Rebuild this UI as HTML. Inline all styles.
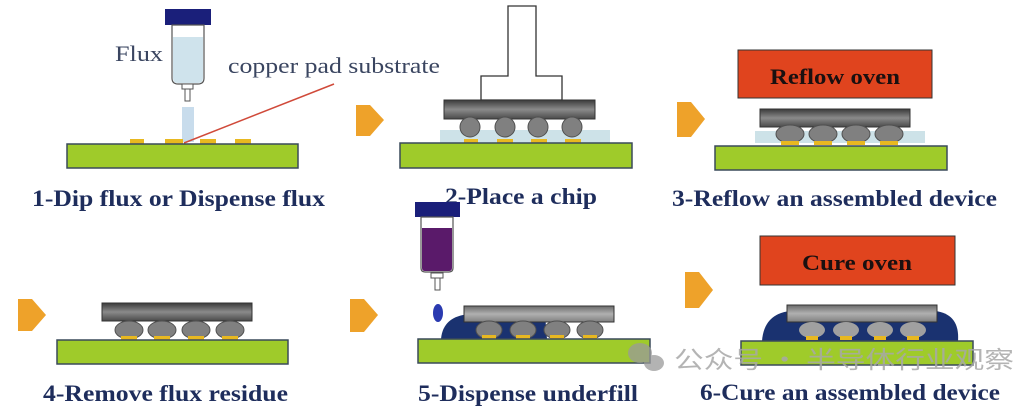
<!DOCTYPE html>
<html><head><meta charset="utf-8"><style>
html,body{margin:0;padding:0;background:#fff;width:1024px;height:406px;overflow:hidden}
svg{display:block}
.lab{font-family:"Liberation Serif",serif;font-weight:bold;font-size:23px;fill:#1e2d5c}
.sub{fill:#9fcb2a;stroke:#3a4a5a;stroke-width:1.5}
.pad{fill:#e8b820}
.ball{fill:#808080;stroke:#505050;stroke-width:1}
.arr{fill:#eea22a}
</style></head><body>
<svg width="1024" height="406" viewBox="0 0 1024 406" xmlns="http://www.w3.org/2000/svg">
<defs>
<linearGradient id="chip" x1="0" y1="0" x2="0" y2="1">
<stop offset="0" stop-color="#3a3a3a"/><stop offset="0.5" stop-color="#8a8a8a"/><stop offset="1" stop-color="#4a4a4a"/>
</linearGradient>
<linearGradient id="chip2" x1="0" y1="0" x2="0" y2="1">
<stop offset="0" stop-color="#6a6a6a"/><stop offset="0.5" stop-color="#b0b0b0"/><stop offset="1" stop-color="#808080"/>
</linearGradient>
</defs>

<!-- Panel 1 -->
<rect x="165" y="9" width="46" height="16" fill="#1a1f7a"/>
<path d="M172 25 H204 V78 Q204 84 198 84 H178 Q172 84 172 78 Z" fill="#fff" stroke="#555" stroke-width="1.2"/>
<path d="M173 37 H203 V78 Q203 83 198 83 H178 Q173 83 173 78 Z" fill="#cfe3ec"/>
<rect x="182" y="84" width="11" height="5" fill="#fff" stroke="#555"/>
<rect x="185" y="89" width="5" height="12" fill="#fff" stroke="#555"/>
<rect x="182" y="107" width="12" height="35" fill="#c8dcec"/>
<text x="115" y="61" font-family="Liberation Serif,serif" font-size="22" fill="#3a4560" textLength="48" lengthAdjust="spacingAndGlyphs">Flux</text>
<text x="228" y="73" font-family="Liberation Serif,serif" font-size="22" fill="#3a4560" textLength="212" lengthAdjust="spacingAndGlyphs">copper pad substrate</text>
<rect x="130" y="139" width="14" height="5" class="pad"/>
<rect x="165" y="139" width="18" height="5" class="pad"/>
<rect x="200" y="139" width="16" height="5" class="pad"/>
<rect x="235" y="139" width="16" height="5" class="pad"/>
<line x1="334" y1="84" x2="184" y2="143" stroke="#d04a3a" stroke-width="1.5"/>
<rect x="67" y="144" width="231" height="24" class="sub"/>
<text x="32" y="206" class="lab" textLength="293" lengthAdjust="spacingAndGlyphs">1-Dip flux or Dispense flux</text>

<path class="arr" d="M356 105 H370 L384 120 L370 136 H356 Z"/>

<!-- Panel 2 -->
<path d="M508 6 H536 V76 H562 V100 H481 V76 H508 Z" fill="#fff" stroke="#333" stroke-width="1.3"/>
<rect x="440" y="130" width="170" height="13" fill="#cde2e8"/>
<rect x="444" y="100" width="151" height="19" fill="url(#chip)" stroke="#333"/>
<circle cx="470" cy="127" r="10" class="ball"/>
<circle cx="505" cy="127" r="10" class="ball"/>
<circle cx="538" cy="127" r="10" class="ball"/>
<circle cx="572" cy="127" r="10" class="ball"/>
<rect x="464" y="139" width="14" height="4" class="pad"/>
<rect x="497" y="139" width="16" height="4" class="pad"/>
<rect x="531" y="139" width="16" height="4" class="pad"/>
<rect x="565" y="139" width="16" height="4" class="pad"/>
<rect x="400" y="143" width="232" height="25" class="sub"/>
<text x="445" y="204" class="lab" textLength="152" lengthAdjust="spacingAndGlyphs">2-Place a chip</text>

<path class="arr" d="M677 102 H691 L705 119 L691 137 H677 Z"/>

<!-- Panel 3 -->
<rect x="738" y="50" width="194" height="48" fill="#e0441e" stroke="#333"/>
<text x="835" y="84" text-anchor="middle" font-family="Liberation Serif,serif" font-weight="bold" font-size="22" fill="#1a1010" textLength="130" lengthAdjust="spacingAndGlyphs">Reflow oven</text>
<rect x="755" y="131" width="170" height="12" fill="#cde2e8"/>
<rect x="760" y="109" width="150" height="18" fill="url(#chip)" stroke="#333"/>
<ellipse cx="790" cy="134" rx="14" ry="9" class="ball"/>
<ellipse cx="823" cy="134" rx="14" ry="9" class="ball"/>
<ellipse cx="856" cy="134" rx="14" ry="9" class="ball"/>
<ellipse cx="889" cy="134" rx="14" ry="9" class="ball"/>
<rect x="781" y="141" width="18" height="4" class="pad"/>
<rect x="814" y="141" width="18" height="4" class="pad"/>
<rect x="847" y="141" width="18" height="4" class="pad"/>
<rect x="880" y="141" width="18" height="4" class="pad"/>
<rect x="715" y="146" width="232" height="24" class="sub"/>
<text x="672" y="206" class="lab" textLength="325" lengthAdjust="spacingAndGlyphs">3-Reflow an assembled device</text>

<!-- Panel 4 -->
<path class="arr" d="M18 299 H32 L46 315 L32 331 H18 Z"/>
<rect x="102" y="303" width="150" height="18" fill="url(#chip)" stroke="#333"/>
<ellipse cx="129" cy="330" rx="14" ry="9" class="ball"/>
<ellipse cx="162" cy="330" rx="14" ry="9" class="ball"/>
<ellipse cx="196" cy="330" rx="14" ry="9" class="ball"/>
<ellipse cx="230" cy="330" rx="14" ry="9" class="ball"/>
<rect x="121" y="336" width="16" height="4" class="pad"/>
<rect x="154" y="336" width="16" height="4" class="pad"/>
<rect x="188" y="336" width="16" height="4" class="pad"/>
<rect x="222" y="336" width="16" height="4" class="pad"/>
<rect x="57" y="340" width="231" height="24" class="sub"/>
<text x="43" y="401" class="lab" textLength="245" lengthAdjust="spacingAndGlyphs">4-Remove flux residue</text>

<path class="arr" d="M350 299 H364 L378 315 L364 332 H350 Z"/>

<!-- Panel 5 -->
<rect x="415" y="202" width="45" height="15" fill="#1a1f7a"/>
<path d="M421 217 H453 V268 Q453 272 449 272 H425 Q421 272 421 268 Z" fill="#fff" stroke="#555" stroke-width="1.2"/>
<path d="M422 228 H452 V268 Q452 271 449 271 H425 Q422 271 422 268 Z" fill="#5a1a6a"/>
<rect x="431" y="273" width="12" height="5" fill="#fff" stroke="#555"/>
<rect x="435" y="278" width="5" height="12" fill="#fff" stroke="#555"/>
<ellipse cx="438" cy="313" rx="5" ry="9" fill="#2a3ab0"/>
<path d="M441 339 Q443 316 470 314 L545 314 L547 339 Z" fill="#1a3270"/>
<rect x="464" y="306" width="150" height="16" fill="url(#chip2)" stroke="#333"/>
<ellipse cx="489" cy="330" rx="13" ry="9" class="ball"/>
<ellipse cx="523" cy="330" rx="13" ry="9" class="ball"/>
<ellipse cx="557" cy="330" rx="13" ry="9" class="ball"/>
<ellipse cx="590" cy="330" rx="13" ry="9" class="ball"/>
<rect x="482" y="335" width="14" height="4" class="pad"/>
<rect x="516" y="335" width="14" height="4" class="pad"/>
<rect x="550" y="335" width="14" height="4" class="pad"/>
<rect x="583" y="335" width="14" height="4" class="pad"/>
<rect x="418" y="339" width="232" height="24" class="sub"/>
<text x="418" y="401" class="lab" textLength="220" lengthAdjust="spacingAndGlyphs">5-Dispense underfill</text>

<path class="arr" d="M685 272 H699 L713 290 L699 308 H685 Z"/>

<!-- Panel 6 -->
<rect x="760" y="236" width="195" height="49" fill="#e0441e" stroke="#333"/>
<text x="857" y="270" text-anchor="middle" font-family="Liberation Serif,serif" font-weight="bold" font-size="22" fill="#1a1010" textLength="110" lengthAdjust="spacingAndGlyphs">Cure oven</text>
<path d="M762 341 Q764 314 790 311 H935 Q960 314 958 341 Z" fill="#1a3270"/>
<rect x="787" y="305" width="150" height="17" fill="url(#chip2)" stroke="#333"/>
<ellipse cx="812" cy="330" rx="13" ry="8" fill="#a0a0a0"/>
<ellipse cx="846" cy="330" rx="13" ry="8" fill="#a0a0a0"/>
<ellipse cx="880" cy="330" rx="13" ry="8" fill="#a0a0a0"/>
<ellipse cx="913" cy="330" rx="13" ry="8" fill="#a0a0a0"/>
<rect x="806" y="336" width="12" height="4" class="pad"/>
<rect x="840" y="336" width="12" height="4" class="pad"/>
<rect x="874" y="336" width="12" height="4" class="pad"/>
<rect x="907" y="336" width="12" height="4" class="pad"/>
<rect x="741" y="341" width="232" height="24" class="sub"/>
<text x="700" y="400" class="lab" textLength="300" lengthAdjust="spacingAndGlyphs">6-Cure an assembled device</text>

<!-- watermark -->
<g fill="#9a9a9a" opacity="0.75">
<ellipse cx="640" cy="353" rx="12" ry="10"/>
<ellipse cx="654" cy="363" rx="10" ry="8"/>
</g>
<text x="674" y="368" font-family="'Noto Sans CJK SC',sans-serif" font-size="24" fill="#a8a8a8" opacity="0.85" textLength="340" lengthAdjust="spacingAndGlyphs">公众号 · 半导体行业观察</text>
</svg>
</body></html>
